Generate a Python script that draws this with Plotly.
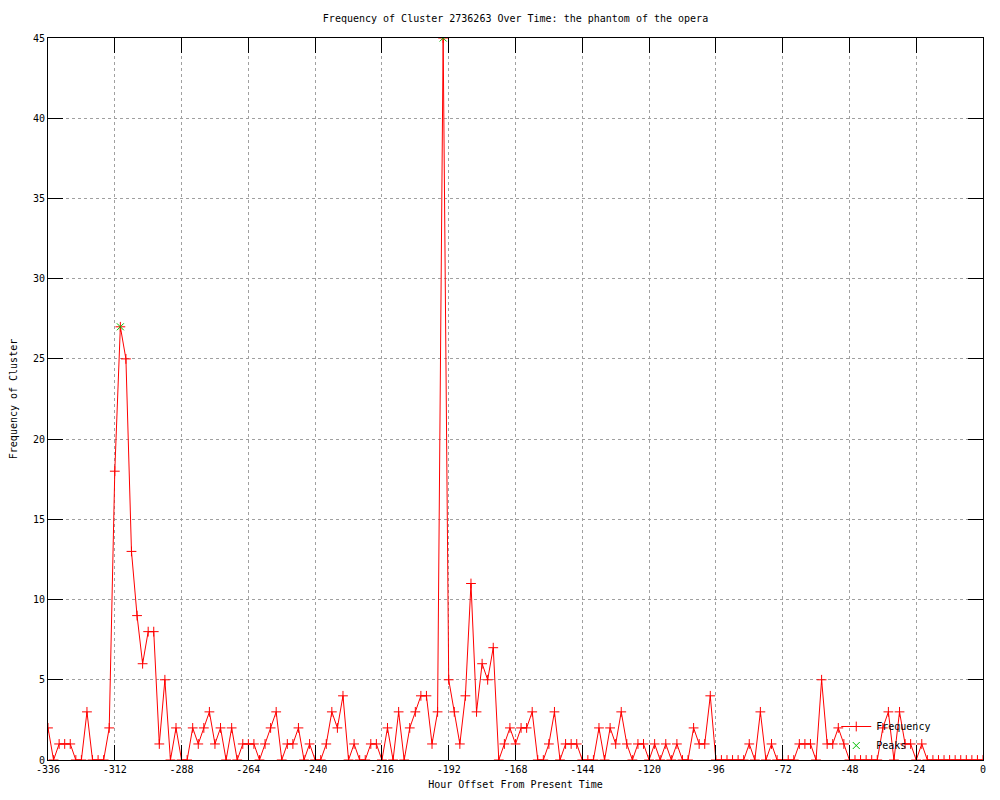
import plotly.graph_objects as go

# Hour offsets (every 2 hours from -336 to 0)
hours = list(range(-336, 1, 2))

frequency = [
    2, 0, 1, 1, 1, 0, 0, 3, 0, 0,
    0, 2, 18, 27, 25, 13, 9, 6, 8, 8,
    1, 5, 0, 2, 0, 0, 2, 1, 2, 3,
    1, 2, 0, 2, 0, 1, 1, 1, 0, 1,
    2, 3, 0, 1, 1, 2, 0, 1, 0, 0,
    1, 3, 2, 4, 0, 1, 0, 0, 1, 1,
    0, 2, 0, 3, 0, 2, 3, 4, 4, 1,
    3, 45, 5, 3, 1, 4, 11, 3, 6, 5,
    7, 0, 1, 2, 1, 2, 2, 3, 0, 0,
    1, 3, 0, 1, 1, 1, 0, 0, 0, 2,
    0, 2, 1, 3, 1, 0, 1, 1, 0, 1,
    0, 1, 0, 1, 0, 0, 2, 1, 1, 4,
    0, 0, 0, 0, 0, 0, 1, 0, 3, 0,
    1, 0, 0, 0, 0, 1, 1, 1, 0, 5,
    1, 1, 2, 1, 0, 0, 0, 0, 0, 0,
    2, 3, 0, 3, 1, 1, 0, 1, 0, 0,
    0, 0, 0, 0, 0, 0, 0, 0, 0,
]

peak_hours = [-310, -194]
peak_values = [27, 45]

x_ticks = list(range(-336, 1, 24))
y_ticks = list(range(0, 46, 5))

FONT = "DejaVu Sans Mono"

fig = go.Figure()
fig.add_trace(go.Scatter(
    x=hours, y=frequency, mode="lines+markers", name="Frequency",
    line=dict(color="#ff0000", width=1),
    marker=dict(symbol="cross-thin", size=7, line=dict(color="#ff0000", width=1)),
))
fig.add_trace(go.Scatter(
    x=peak_hours, y=peak_values, mode="markers", name="Peaks",
    marker=dict(symbol="x-thin", size=7, line=dict(color="#00c000", width=1)),
))

axis_common = dict(
    showline=True, linecolor="black", linewidth=1, mirror="ticks",
    ticks="inside", ticklen=15, tickcolor="black", tickwidth=1,
    showgrid=True, gridcolor="#a0a0a0", griddash="dot", gridwidth=1,
    zeroline=False, automargin=False,
    tickfont=dict(family=FONT, size=10, color="black"),
)

fig.update_xaxes(
    range=[-336, 0], tickvals=x_ticks, ticktext=[str(v) for v in x_ticks],
    title=dict(text="Hour Offset From Present Time", font=dict(family=FONT, size=10, color="black"), standoff=6),
    **axis_common,
)
fig.update_yaxes(
    range=[0, 45], tickvals=y_ticks, ticktext=[str(v) for v in y_ticks],
    title=dict(text="Frequency of Cluster", font=dict(family=FONT, size=10, color="black"), standoff=14),
    **axis_common,
)

fig.update_layout(
    width=1000, height=800,
    margin=dict(l=40, r=25, t=30, b=48, autoexpand=False),
    paper_bgcolor="white", plot_bgcolor="white",
    title=dict(text="Frequency of Cluster 2736263 Over Time: the phantom of the opera",
               font=dict(family=FONT, size=10, color="black"),
               x=0.5, xref="paper", xanchor="center", y=1 - 10 / 800, yanchor="middle"),
    legend=dict(x=0.95, xanchor="right", y=0.0, yanchor="bottom",
                bgcolor="rgba(0,0,0,0)", font=dict(family=FONT, size=10, color="black"),
                tracegroupgap=0, itemwidth=30),
    showlegend=True,
)

fig.write_html("out.html")
